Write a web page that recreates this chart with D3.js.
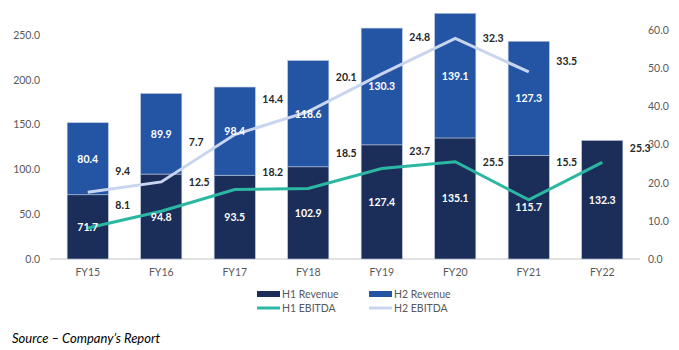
<!DOCTYPE html>
<html>
<head>
<meta charset="utf-8">
<script src="https://cdn.jsdelivr.net/npm/d3@7"></script>
<style>
  body { margin: 0; background: #fff; }
  svg text { font-family: Lato, "Liberation Sans", sans-serif; }
</style>
</head>
<body>
<svg id="chart" width="679" height="350"></svg>
<script>
let years = ["FY15", "FY16", "FY17", "FY18", "FY19", "FY20", "FY21", "FY22"];
let h1Revenue = [71.7, 94.8, 93.5, 102.9, 127.4, 135.1, 115.7, 132.3];
let h2Revenue = [80.4, 89.9, 98.4, 118.6, 130.3, 139.1, 127.3, null];
let h1Ebitda = [8.1, 12.5, 18.2, 18.5, 23.7, 25.5, 15.5, 25.3];
let h2Ebitda = [9.4, 7.7, 14.4, 20.1, 24.8, 32.3, 33.5, null];
let leftTicks = [0, 50, 100, 150, 200, 250];
let rightTicks = [0, 10, 20, 30, 40, 50, 60];

let colors = {h1Rev: "#1b2e5a", h2Rev: "#2455a4", h1Eb: "#2cb7a2", h2Eb: "#c9d5ef"};

let svg = d3.select("#chart");

let x = d3.scaleBand()
    .domain(years)
    .range([51, 639])
    .paddingInner(0.44)
    .paddingOuter(0.22);

let y = d3.scaleLinear().domain([0, 250]).range([259, 35]);
let yR = d3.scaleLinear().domain([0, 60]).range([259, 30]);

// baseline
svg.append("line")
    .attr("x1", 50).attr("x2", 640)
    .attr("y1", y(0)).attr("y2", y(0))
    .attr("stroke", "#d9d9d9").attr("stroke-width", 1.5);

// left axis
let leftAxis = d3.axisLeft(y).tickValues(leftTicks).tickFormat(d3.format(".1f")).tickSize(0).tickPadding(0);
svg.append("g")
    .attr("transform", "translate(40,0)")
    .call(leftAxis)
    .call(g => g.select(".domain").remove())
    .selectAll("text")
    .attr("fill", "#595959").style("font-size", "10.5px");

// right axis
let rightAxis = d3.axisRight(yR).tickValues(rightTicks).tickFormat(d3.format(".1f")).tickSize(0).tickPadding(0);
svg.append("g")
    .attr("transform", "translate(648,0)")
    .call(rightAxis)
    .call(g => g.select(".domain").remove())
    .selectAll("text")
    .attr("fill", "#595959").style("font-size", "10.5px");

// x labels
svg.append("g").selectAll("text")
    .data(years)
    .join("text")
    .attr("x", d => x(d) + x.bandwidth() / 2)
    .attr("y", 276)
    .attr("text-anchor", "middle")
    .attr("fill", "#595959")
    .style("font-size", "10.5px")
    .text(d => d);

let rows = years.map((yr, i) => ({yr: yr, h1: h1Revenue[i], h2: h2Revenue[i], e1: h1Ebitda[i], e2: h2Ebitda[i]}));

// bars
svg.append("g").selectAll("rect")
    .data(rows)
    .join("rect")
    .attr("x", d => x(d.yr))
    .attr("width", x.bandwidth())
    .attr("y", d => y(d.h1))
    .attr("height", d => y(0) - y(d.h1))
    .attr("fill", colors.h1Rev)
    .attr("stroke", "#b8c4dc").attr("stroke-width", 0.6);

svg.append("g").selectAll("rect")
    .data(rows.filter(d => d.h2 != null))
    .join("rect")
    .attr("x", d => x(d.yr))
    .attr("width", x.bandwidth())
    .attr("y", d => y(d.h1 + d.h2))
    .attr("height", d => y(d.h1) - y(d.h1 + d.h2))
    .attr("fill", colors.h2Rev)
    .attr("stroke", "#b8c4dc").attr("stroke-width", 0.6);

// lines (H2 EBITDA drawn stacked on H1)
let cx = d => x(d.yr) + x.bandwidth() / 2;
let line1 = d3.line().x(cx).y(d => yR(d.e1));
let line2 = d3.line().x(cx).y(d => yR(d.e1 + d.e2));

svg.append("path")
    .datum(rows.filter(d => d.e2 != null))
    .attr("d", line2)
    .attr("fill", "none")
    .attr("stroke", colors.h2Eb).attr("stroke-width", 3);

svg.append("path")
    .datum(rows)
    .attr("d", line1)
    .attr("fill", "none")
    .attr("stroke", colors.h1Eb).attr("stroke-width", 3);

// revenue labels inside bars
let fmt = d3.format(".1f");
svg.append("g").selectAll("text")
    .data(rows)
    .join("text")
    .attr("x", cx)
    .attr("y", d => (y(0) + y(d.h1)) / 2 + 4)
    .attr("text-anchor", "middle")
    .attr("fill", "#fff").style("font-size", "10.5px").style("font-weight", "bold")
    .text(d => fmt(d.h1));

svg.append("g").selectAll("text")
    .data(rows.filter(d => d.h2 != null))
    .join("text")
    .attr("x", cx)
    .attr("y", d => (y(d.h1) + y(d.h1 + d.h2)) / 2 + 4)
    .attr("text-anchor", "middle")
    .attr("fill", "#fff").style("font-size", "10.5px").style("font-weight", "bold")
    .text(d => fmt(d.h2));

// EBITDA labels, placed right of each bar (manual vertical nudges as in the original)
let e1Dy = [-23, -29, -18, -35, -18, 0, -38, -14];
let e2Dy = [-21, -40, -36, -35, -37, 0, -11];

svg.append("g").selectAll("text")
    .data(rows)
    .join("text")
    .attr("x", d => x(d.yr) + x.bandwidth() + 7)
    .attr("y", (d, i) => yR(d.e1) + e1Dy[i] + 4)
    .attr("fill", "#262626").style("font-size", "10.5px").style("font-weight", "bold")
    .text(d => fmt(d.e1));

svg.append("g").selectAll("text")
    .data(rows.filter(d => d.e2 != null))
    .join("text")
    .attr("x", d => x(d.yr) + x.bandwidth() + 7)
    .attr("y", (d, i) => yR(d.e1 + d.e2) + e2Dy[i] + 4)
    .attr("fill", "#262626").style("font-size", "10.5px").style("font-weight", "bold")
    .text(d => fmt(d.e2));

// legend
let legend = [
    {name: "H1 Revenue", type: "bar", color: colors.h1Rev, lx: 257, ly: 294},
    {name: "H2 Revenue", type: "bar", color: colors.h2Rev, lx: 369, ly: 294},
    {name: "H1 EBITDA", type: "line", color: colors.h1Eb, lx: 257, ly: 308},
    {name: "H2 EBITDA", type: "line", color: colors.h2Eb, lx: 369, ly: 308}
];
let lg = svg.append("g").selectAll("g").data(legend).join("g");
lg.filter(d => d.type === "bar").append("rect")
    .attr("x", d => d.lx).attr("y", d => d.ly - 3)
    .attr("width", 23).attr("height", 6)
    .attr("fill", d => d.color);
lg.filter(d => d.type === "line").append("line")
    .attr("x1", d => d.lx).attr("x2", d => d.lx + 23)
    .attr("y1", d => d.ly).attr("y2", d => d.ly)
    .attr("stroke", d => d.color).attr("stroke-width", 3);
lg.append("text")
    .attr("x", d => d.lx + 25).attr("y", d => d.ly + 3.5)
    .attr("fill", "#595959").style("font-size", "10.5px")
    .text(d => d.name);

// source note
svg.append("text")
    .attr("x", 12).attr("y", 343)
    .style("font-size", "13px").style("font-style", "italic")
    .attr("fill", "#000")
    .text("Source \u2013 Company\u2019s Report");
</script>
</body>
</html>
